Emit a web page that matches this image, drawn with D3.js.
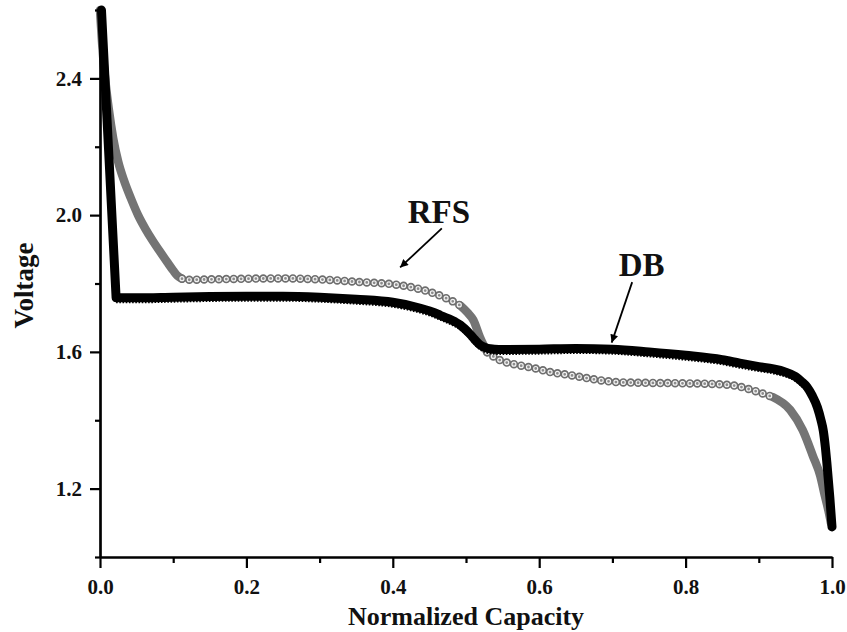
<!DOCTYPE html>
<html>
<head>
<meta charset="utf-8">
<script src="https://cdn.jsdelivr.net/npm/d3@7"></script>
<style>
  html, body { margin: 0; padding: 0; background: #fff; }
  svg { display: block; }
  text { font-family: "Liberation Serif", "Times New Roman", serif; font-weight: bold; fill: #111; }
</style>
</head>
<body>
<svg id="chart" width="847" height="632"></svg>
<script>
// ---- data ----
const dbCapacity = [0.002, 0.022, 0.05, 0.1, 0.15, 0.2, 0.25, 0.3, 0.35, 0.4, 0.43, 0.455, 0.465, 0.475, 0.485, 0.492, 0.498, 0.505, 0.512, 0.519, 0.526, 0.533, 0.545, 0.6, 0.65, 0.7, 0.75, 0.8, 0.85, 0.874, 0.9, 0.92, 0.935, 0.95, 0.958, 0.966, 0.973, 0.98, 0.985, 0.988, 0.991, 0.993, 0.997, 1.0];
const dbVoltage  = [2.60, 1.758, 1.758, 1.760, 1.762, 1.763, 1.763, 1.760, 1.754, 1.745, 1.732, 1.716, 1.707, 1.698, 1.688, 1.679, 1.668, 1.653, 1.636, 1.621, 1.613, 1.609, 1.607, 1.608, 1.610, 1.608, 1.600, 1.590, 1.577, 1.567, 1.557, 1.550, 1.542, 1.528, 1.514, 1.497, 1.472, 1.438, 1.400, 1.371, 1.320, 1.275, 1.175, 1.088];

const rfsCapacity = [0, 0.004, 0.008, 0.012, 0.018, 0.025, 0.033, 0.042, 0.052, 0.062, 0.072, 0.082, 0.092, 0.1, 0.106, 0.112, 0.12, 0.15, 0.2, 0.25, 0.3, 0.35, 0.41, 0.455, 0.475, 0.492, 0.502, 0.51, 0.519, 0.529, 0.546, 0.57, 0.592, 0.615, 0.642, 0.68, 0.71, 0.76, 0.8, 0.84, 0.87, 0.9, 0.919, 0.943, 0.96, 0.974, 0.984, 0.990, 0.995, 0.9986];
const rfsVoltage  = [2.60, 2.47, 2.38, 2.31, 2.225, 2.155, 2.10, 2.05, 2.00, 1.96, 1.925, 1.893, 1.862, 1.838, 1.822, 1.814, 1.811, 1.812, 1.814, 1.815, 1.812, 1.805, 1.795, 1.772, 1.755, 1.736, 1.715, 1.693, 1.643, 1.599, 1.576, 1.562, 1.553, 1.541, 1.532, 1.518, 1.511, 1.509, 1.508, 1.506, 1.500, 1.482, 1.468, 1.430, 1.371, 1.295, 1.237, 1.181, 1.137, 1.099];

const xMajorTicks = [0.0, 0.2, 0.4, 0.6, 0.8, 1.0];
const xMinorTicks = [0.1, 0.3, 0.5, 0.7, 0.9];
const yMajorTicks = [1.2, 1.6, 2.0, 2.4];
const yMinorTicks = [1.0, 1.4, 1.8, 2.2, 2.6];
const xTitle = "Normalized Capacity";
const yTitle = "Voltage";

// capacity ranges of the RFS series where the markers pile up into a solid band,
// and where they stand apart as single rings
const rfsDenseRanges = [[0, 0.112], [0.492, 0.535], [0.919, 1.0]];
const rfsSparseRanges = [[0.112, 0.492], [0.529, 0.919]];

// annotations in data units: label position, arrow start, arrow tip
const annotationLabels = ["RFS", "DB"];
const annotationLabelAt = [[0.463, 1.976], [0.740, 1.822]];
const annotationFrom = [[0.467, 1.961], [0.727, 1.804]];
const annotationTo = [[0.410, 1.847], [0.699, 1.627]];

// ---- drawing ----
const svg = d3.select("#chart");
const x = d3.scaleLinear().domain([0, 1]).range([100, 832]);
const y = d3.scaleLinear().domain([1.0, 2.6]).range([557, 10]);

svg.append("rect").attr("width", 847).attr("height", 632).attr("fill", "#fff");

const dbData = dbCapacity.map((c, i) => [c, dbVoltage[i]]);
const rfsData = rfsCapacity.map((c, i) => [c, rfsVoltage[i]]);
const inRange = (data, r) => data.filter(d => d[0] >= r[0] && d[0] <= r[1]);

const smoothLine = d3.line().x(d => x(d[0])).y(d => y(d[1])).curve(d3.curveMonotoneX);
const straightLine = d3.line().x(d => x(d[0])).y(d => y(d[1])).curve(d3.curveLinear);

// RFS: grey circle markers (ring with crossed centre); solid band where dense
const rfsG = svg.append("g");
rfsDenseRanges.forEach(r => {
  rfsG.append("path").attr("d", smoothLine(inRange(rfsData, r))).attr("fill", "none")
    .attr("stroke", "#747474").attr("stroke-width", 8.5)
    .attr("stroke-linecap", "round").attr("stroke-linejoin", "round");
});
rfsSparseRanges.forEach(r => {
  const d = smoothLine(inRange(rfsData, r));
  rfsG.append("path").attr("d", d).attr("fill", "none")
    .attr("stroke", "#8a8a8a").attr("stroke-width", 2);
  rfsG.append("path").attr("d", d).attr("fill", "none")
    .attr("stroke", "#6e6e6e").attr("stroke-width", 8.5)
    .attr("stroke-linecap", "round").attr("stroke-dasharray", "0 7.4");
  rfsG.append("path").attr("d", d).attr("fill", "none")
    .attr("stroke", "#f2f2f2").attr("stroke-width", 5.2)
    .attr("stroke-linecap", "round").attr("stroke-dasharray", "0 7.4");
  rfsG.append("path").attr("d", d).attr("fill", "none")
    .attr("stroke", "#8c8c8c").attr("stroke-width", 2.8)
    .attr("stroke-linecap", "round").attr("stroke-dasharray", "0 7.4");
});

// DB: thick black band with serrated lower edge (straight initial drop, smooth afterwards)
const dbG = svg.append("g");
const dbPath = straightLine(dbData.slice(0, 2)) + smoothLine(dbData.slice(1));
dbG.append("path").attr("d", dbPath).attr("fill", "none")
  .attr("stroke", "#000").attr("stroke-width", 9)
  .attr("stroke-linejoin", "round").attr("stroke-linecap", "round");
dbG.append("path").attr("d", smoothLine(dbData.slice(1))).attr("fill", "none")
  .attr("transform", "translate(0,4)")
  .attr("stroke", "#000").attr("stroke-width", 3)
  .attr("stroke-dasharray", "1.6 1.6");

// axes
const axisG = svg.append("g");
const xMajor = d3.axisBottom(x).tickValues(xMajorTicks).tickSize(11).tickSizeOuter(0).tickPadding(11).tickFormat(d3.format(".1f"));
const xMinor = d3.axisBottom(x).tickValues(xMinorTicks).tickSize(6).tickSizeOuter(0).tickFormat("");
const yMajor = d3.axisLeft(y).tickValues(yMajorTicks).tickSize(10).tickSizeOuter(0).tickPadding(8).tickFormat(d3.format(".1f"));
const yMinor = d3.axisLeft(y).tickValues(yMinorTicks).tickSize(5).tickSizeOuter(0).tickFormat("");

axisG.append("g").attr("transform", "translate(0,557)").call(xMajor);
axisG.append("g").attr("transform", "translate(0,557)").call(xMinor);
axisG.append("g").attr("transform", "translate(100,0)").call(yMajor);
axisG.append("g").attr("transform", "translate(100,0)").call(yMinor);

axisG.selectAll("path.domain").attr("stroke", "#000").attr("stroke-width", 2.2);
axisG.selectAll(".tick line").attr("stroke", "#000").attr("stroke-width", 2.2);
axisG.selectAll(".tick text")
  .attr("font-family", '"Liberation Serif", "Times New Roman", serif')
  .attr("font-weight", "bold").attr("font-size", 21).attr("fill", "#111");

// axis titles
svg.append("text").attr("x", x(0.5)).attr("y", 625)
  .attr("text-anchor", "middle").attr("font-size", 26).text(xTitle);
svg.append("text").attr("transform", `translate(33,${y(1.8) + 2}) rotate(-90)`)
  .attr("text-anchor", "middle").attr("font-size", 27).text(yTitle);

// arrowhead
svg.append("defs").append("marker")
  .attr("id", "arrow").attr("viewBox", "0 0 10 10")
  .attr("refX", 10).attr("refY", 5)
  .attr("markerWidth", 11).attr("markerHeight", 8)
  .attr("markerUnits", "userSpaceOnUse")
  .attr("orient", "auto")
  .append("path").attr("d", "M0,0 L10,5 L0,10 Z").attr("fill", "#000");

// annotations
annotationLabels.forEach((label, i) => {
  svg.append("text")
    .attr("x", x(annotationLabelAt[i][0])).attr("y", y(annotationLabelAt[i][1]))
    .attr("text-anchor", "middle").attr("font-size", 33).text(label);
  svg.append("line")
    .attr("x1", x(annotationFrom[i][0])).attr("y1", y(annotationFrom[i][1]))
    .attr("x2", x(annotationTo[i][0])).attr("y2", y(annotationTo[i][1]))
    .attr("stroke", "#000").attr("stroke-width", 1.8)
    .attr("marker-end", "url(#arrow)");
});
</script>
</body>
</html>
